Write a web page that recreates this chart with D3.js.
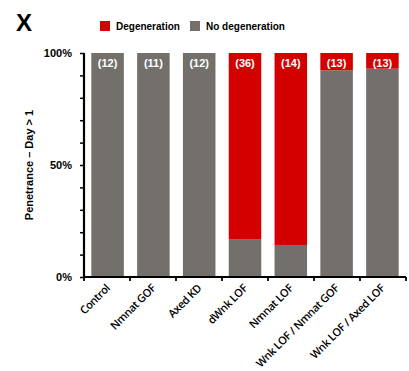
<!DOCTYPE html>
<meta charset="utf-8">
<script src="https://d3js.org/d3.v7.min.js"></script>
<style>
  body { margin: 0; background: #fff; }
  text { font-family: "Liberation Sans", Arial, sans-serif; }
</style>
<div id="chart"></div>
<script>

// data
var groups = ["Control", "Nmnat GOF", "Axed KD", "dWnk LOF", "Nmnat LOF",
              "Wnk LOF / Nmnat GOF", "Wnk LOF / Axed LOF"];
var noDegeneration = [100, 100, 100, 16.7, 14.3, 92.3, 93];
var degeneration = [0, 0, 0, 83.3, 85.7, 7.7, 7];
var counts = ["(12)", "(11)", "(12)", "(36)", "(14)", "(13)", "(13)"];
var yTicks = [0, 50, 100];

var red = "#d40000", grey = "#73706c";

var W = 409, H = 371;
var margin = {top: 53, left: 84, right: 3, bottom: 94};

var svg = d3.select("#chart").append("svg")
  .attr("width", W).attr("height", H);

var x = d3.scaleBand()
  .domain(groups)
  .range([margin.left, W - margin.right])
  .paddingInner(0.29)
  .paddingOuter(0.16);

var y = d3.scaleLinear()
  .domain([0, 100])
  .range([H - margin.bottom, margin.top]);

// stacked bars: grey at bottom, red on top
var g = svg.append("g");
g.selectAll(".nd").data(groups).enter().append("rect")
  .attr("x", function(d) { return x(d); })
  .attr("width", x.bandwidth())
  .attr("y", function(d, i) { return y(noDegeneration[i]); })
  .attr("height", function(d, i) { return y(0) - y(noDegeneration[i]); })
  .attr("fill", grey);

g.selectAll(".dg").data(groups).enter().append("rect")
  .attr("x", function(d) { return x(d); })
  .attr("width", x.bandwidth())
  .attr("y", function(d, i) { return y(noDegeneration[i] + degeneration[i]); })
  .attr("height", function(d, i) { return y(noDegeneration[i]) - y(noDegeneration[i] + degeneration[i]); })
  .attr("fill", red);

// n counts
g.selectAll(".cnt").data(groups).enter().append("text")
  .attr("x", function(d) { return x(d) + x.bandwidth() / 2; })
  .attr("y", y(100) + 14)
  .attr("text-anchor", "middle")
  .attr("fill", "#fff")
  .style("font-size", "11px")
  .style("font-weight", "bold")
  .text(function(d, i) { return counts[i]; });

// y axis
var yAxis = svg.append("g")
  .attr("transform", "translate(" + margin.left + ",0)")
  .call(d3.axisLeft(y).tickValues(d3.range(0, 101, 10)).tickSize(4).tickFormat(""));
yAxis.select(".domain").attr("stroke-width", 2.2).attr("d", "M0," + y(100) + "V" + y(0));
yAxis.selectAll(".tick line").attr("stroke-width", 1.5);

svg.selectAll(".ylab").data(yTicks).enter().append("text")
  .attr("x", margin.left - 12)
  .attr("y", function(d) { return y(d) + 4; })
  .attr("text-anchor", "end")
  .style("font-size", "11px")
  .style("font-weight", "bold")
  .text(function(d) { return d + "%"; });

// x axis with ticks at category boundaries
var bounds = d3.range(groups.length + 1).map(function(i) {
  return margin.left + i * (W - margin.right - margin.left) / groups.length;
});
var xAxis = svg.append("g");
xAxis.append("line")
  .attr("x1", margin.left - 1).attr("x2", W - margin.right)
  .attr("y1", y(0)).attr("y2", y(0))
  .attr("stroke", "#000").attr("stroke-width", 2.2);
xAxis.selectAll(".bt").data(bounds).enter().append("line")
  .attr("x1", function(d) { return d; }).attr("x2", function(d) { return d; })
  .attr("y1", y(0)).attr("y2", y(0) + 4)
  .attr("stroke", "#000").attr("stroke-width", 1.8);

xAxis.selectAll(".xl").data(groups).enter().append("text")
  .attr("transform", function(d) {
    return "translate(" + (x(d) + x.bandwidth() / 2 + 3) + "," + (y(0) + 12) + ") rotate(-45)";
  })
  .attr("text-anchor", "end")
  .style("font-family", "'Open Sans', sans-serif")
  .style("font-size", "11px")
  .style("font-weight", "600")
  .style("letter-spacing", "-0.4px")
  .text(function(d) { return d; });

// y title
svg.append("text")
  .attr("transform", "translate(33," + y(50) + ") rotate(-90)")
  .attr("text-anchor", "middle")
  .style("font-size", "11px")
  .style("font-weight", "bold")
  .text("Penetrance \u2013 Day > 1");

// panel letter
svg.append("text")
  .attr("x", 16).attr("y", 31)
  .style("font-size", "24px")
  .style("font-weight", "bold")
  .text("X");

// legend
var legend = [{label: "Degeneration", color: red, x: 100},
              {label: "No degeneration", color: grey, x: 190}];
var lg = svg.selectAll(".lg").data(legend).enter().append("g")
  .attr("transform", function(d) { return "translate(" + d.x + ",21)"; });
lg.append("rect").attr("width", 10).attr("height", 10).attr("fill", function(d) { return d.color; });
lg.append("text")
  .attr("x", 16).attr("y", 9)
  .style("font-size", "10px")
  .style("font-weight", "bold")
  .text(function(d) { return d.label; });

</script>
